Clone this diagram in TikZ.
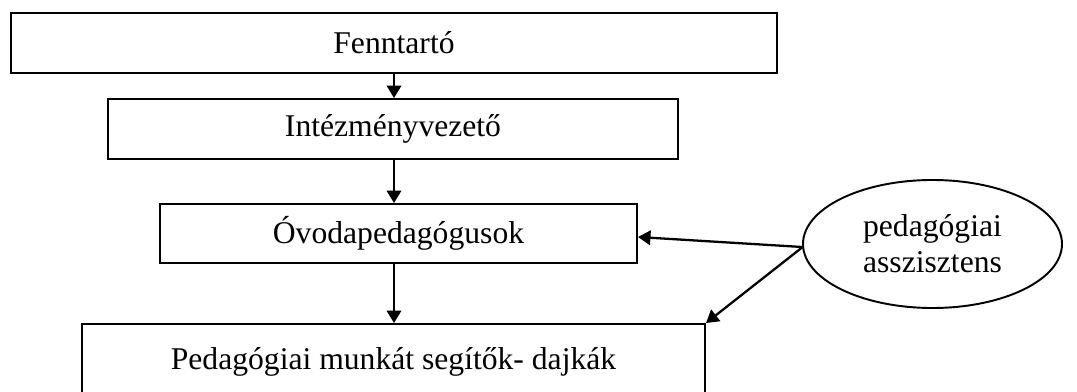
\documentclass[tikz,border=0pt]{standalone}
\usepackage{fontspec}
\setmainfont{Liberation Serif}
\usepackage{tikz}
\usetikzlibrary{shapes,arrows,arrows.meta}
\tikzstyle{block} = [rectangle, draw, line width=1.1pt, align=center, inner sep=0pt, minimum height=1.2cm]
\tikzstyle{oval} = [ellipse, draw, line width=1.1pt, align=center, inner sep=0pt]
\tikzstyle{arrow} = [draw, -{Triangle[width=0.29cm,length=0.25cm]}, line width=1.3pt]

\begin{document}
\begin{tikzpicture}[auto, font=\fontsize{18}{20.5}\selectfont]
\clip (0, 0) rectangle (21.54, 7.82);

%% chain of boxes
\node[block, minimum width=15.32cm] at (7.88, 6.96) (fenn) {Fenntartó};
\node[block, minimum width=11.40cm] at (7.86, 5.24) (intez) {Intézményvezető};
\node[block, minimum width=9.54cm, minimum height=1.18cm] at (7.97, 3.15) (ovoda) {Óvodapedagógusok};
\node[block, minimum width=12.46cm, minimum height=1.5cm] at (7.87, 0.59) (dajka) {Pedagógiai munkát segítők- dajkák};

\coordinate (axis) at (7.88, 0);
\path[arrow] (fenn.south -| axis) -- (intez.north -| axis);
\path[arrow] (intez.south -| axis) -- (ovoda.north -| axis);
\path[arrow] (ovoda.south -| axis) -- (dajka.north -| axis);

%% assistant
\node[oval, minimum width=5.18cm, minimum height=2.56cm] at (18.65, 2.94) (assist) {pedagógiai\\asszisztens};
\path[arrow] ([yshift=-0.06cm]assist.west) -- ([yshift=-0.07cm]ovoda.east);
\path[arrow] ([yshift=-0.07cm]assist.west) -- (dajka.north east);

\end{tikzpicture}
\end{document}
